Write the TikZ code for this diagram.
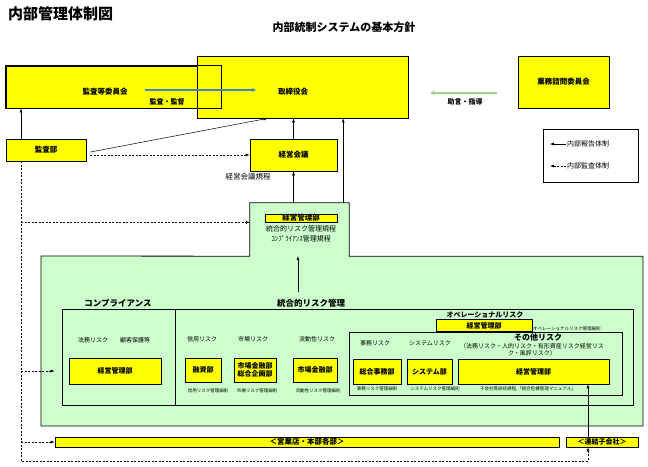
\documentclass[tikz,border=0pt]{standalone}
\usepackage{fontspec}
\setmainfont{Noto Sans CJK JP}
\usepackage{tikz}
\usetikzlibrary{arrows.meta,positioning}
\definecolor{boxyellow}{RGB}{255,255,0}
\definecolor{palegreen}{RGB}{204,255,204}
\definecolor{arrowblue}{RGB}{79,129,189}
\definecolor{arrowgreen}{RGB}{160,210,140}

\begin{document}
\begin{tikzpicture}[x=1pt, y=-1pt,
  every node/.style={font=\fontsize{7}{8}\selectfont, inner sep=0pt},
  ybox/.style={draw, line width=0.8pt, fill=boxyellow, font=\fontsize{7}{8.5}\selectfont\bfseries, align=center},
  grp/.style={draw, line width=0.8pt},
  lbl/.style={font=\fontsize{7.5}{9}\selectfont\bfseries},
  head/.style={font=\fontsize{8.5}{10}\selectfont\bfseries},
  note/.style={font=\fontsize{6}{7.5}\selectfont, align=center},
  tiny/.style={font=\fontsize{4.5}{5}\selectfont},
  rep/.style={-{Latex[length=4pt,width=3pt]}, line width=0.5pt},
  aud/.style={rep, dash pattern=on 2pt off 1.5pt}]
  \useasboundingbox (0,0) rectangle (648,466);

  % titles
  \node[font=\fontsize{15}{16}\selectfont\bfseries, anchor=west] (title) at (8,14) {内部管理体制図};
  \node[font=\fontsize{11}{12}\selectfont\bfseries] (policy) at (344,27) {内部統制システムの基本方針};

  % top level
  \node[ybox, minimum width=215pt, minimum height=42pt] (iinkai) at (113.5,87) {};
  \node[ybox, minimum width=211pt, minimum height=62pt] (board) at (302.5,87) {};
  \draw[line width=0.8pt] (iinkai.south west) rectangle (iinkai.north east);
  \node[lbl] (iinkailbl) at (105,92) {監査等委員会};
  \node[lbl, font=\fontsize{7}{8}\selectfont\bfseries] (kantoku) at (167,102) {監査・監督};
  \node[lbl] (boardlbl) at (293,92) {取締役会};
  \draw[-{Stealth[length=4pt,width=4pt]}, arrowblue, line width=1.2pt]
    ([shift={(17,-2)}]iinkailbl.east) -- ([shift={(-22,-2)}]boardlbl.west);

  \node[ybox, lbl, minimum width=91pt, minimum height=52pt] (shimon) at (563.5,82) {業務諮問委員会};
  \draw[-{Stealth[length=4pt,width=5pt]}, arrowgreen, line width=2pt]
    ([shift={(-21,11)}]shimon.west) -- ([shift={(22,6)}]board.east);
  \node[lbl, font=\fontsize{7}{8}\selectfont\bfseries] (jogen) at (465,102) {助言・指導};

  % audit and management meeting
  \node[ybox, lbl, minimum width=80pt, minimum height=22pt] (kansabu) at (46,150) {監査部};
  \node[ybox, lbl, minimum width=87pt, minimum height=32pt] (keiei) at (293.5,155) {経営会議};
  \node[lbl, font=\fontsize{7.5}{9}\selectfont] (keieikitei) at (248,177) {経営会議規程};
  \draw[rep] ([xshift=-25pt]kansabu.north) -- ([xshift=-25pt]kansabu.north |- iinkai.south);
  \draw[rep] ([shift={(4,2)}]kansabu.east) -- ([xshift=-35pt]board.south);
  \draw[aud] ([shift={(4,5)}]kansabu.east) -- (keiei.west);
  \draw[rep] (keiei.north) -- (keiei.north |- board.south);

  % legend
  \node[grp, minimum width=95pt, minimum height=53pt] (legend) at (590.5,155.5) {};
  \node[anchor=west] (lgrep) at (567,144) {内部報告体制};
  \node[anchor=west] (lgaud) at (567,166) {内部監査体制};
  \draw[rep] ([xshift=-1pt]lgrep.west) -- ([xshift=-17pt]lgrep.west);
  \draw[aud] ([xshift=-1pt]lgaud.west) -- ([xshift=-17pt]lgaud.west);

  % risk management area
  \node[minimum width=99pt, minimum height=53pt] (hq) at (299.5,229.5) {};
  \coordinate (risknw) at (41,256);
  \coordinate (riskse) at (643,426);
  \draw[grp, fill=palegreen] (hq.north west) -- (hq.north east) -- (hq.south east)
    -- (riskse |- hq.south) -- (riskse) -- (risknw |- riskse) -- (risknw) -- (hq.south west) -- cycle;
  \node[ybox, font=\fontsize{7.5}{8}\selectfont\bfseries, minimum width=72pt, minimum height=8pt] (kanri0) at (301,218) {経営管理部};
  \node[below=3pt of kanri0] (kitei1) {統合的リスク管理規程};
  \node[below=3pt of kitei1] (kitei2) {ｺﾝﾌﾟﾗｲｱﾝｽ管理規程};
  \draw[rep] (keiei.south |- hq.north) -- (keiei.south);
  \draw[rep] ([xshift=-6pt]hq.north east) -- ([xshift=-6pt]hq.north east |- board.south);

  \node[head] (cmphead) at (118,303) {コンプライアンス};
  \node[head] (riskhead) at (311,303) {統合的リスク管理};
  \coordinate (riskup) at (298,292);
  \draw[rep] (riskup) -- (riskup |- hq.south);

  \node[grp, minimum width=113pt, minimum height=96pt] (cmpbox) at (118.5,357) {};
  \node[grp, minimum width=458pt, minimum height=96pt] (riskbox) at (404,357) {};
  \node[grp, minimum width=273pt, minimum height=63pt] (otherbox) at (485.5,363.5) {};

  % compliance
  \node[note] (homu) at (93,340) {法務リスク};
  \node[note] (kokyaku) at (135,340) {顧客保護等};
  \node[ybox, minimum width=92pt, minimum height=26pt] (kanri1) at (115,371) {経営管理部};

  % credit, market, liquidity
  \node[note] (shinyo) at (202,339) {信用リスク};
  \node[note] (shijorisk) at (253,339) {市場リスク};
  \node[note] (ryudo) at (317,339) {流動性リスク};
  \node[ybox, minimum width=36pt, minimum height=24pt] (yushi) at (203,370) {融資部};
  \node[ybox, minimum width=42pt, minimum height=24pt] (shijo2) at (255,370) {市場金融部\\総合企画部};
  \node[ybox, minimum width=44pt, minimum height=24pt] (shijo) at (315,370) {市場金融部};
  \node[tiny] (saisoku1) at (208,391) {信用リスク管理細則};
  \node[tiny] (saisoku2) at (257,391) {市場リスク管理細則};
  \node[tiny] (saisoku3) at (318,391) {流動性リスク管理細則};

  % operational risk
  \node[font=\fontsize{7}{8}\selectfont\bfseries] (ophead) at (485,315) {オペレーショナルリスク};
  \node[ybox, minimum width=96pt, minimum height=12.5pt] (opkanri) at (484,325.5) {経営管理部};
  \node[tiny, anchor=west] (opsaisoku) at (533,328.5) {オペレーショナルリスク管理細則};
  \node[font=\fontsize{8}{9}\selectfont\bfseries] (sonota) at (538,337) {その他リスク};
  \node[note] (sonotalist) at (532,349.5) {（法務リスク・人的リスク・有形資産リスク経営リス\\ク・風評リスク）};
  \node[note] (jimurisk) at (375,343) {事務リスク};
  \node[note] (sysrisk) at (430,343) {システムリスク};
  \node[ybox, minimum width=48pt, minimum height=25pt] (jimu) at (377,371.5) {総合事務部};
  \node[ybox, minimum width=45pt, minimum height=25pt] (system) at (429.5,371.5) {システム部};
  \node[ybox, minimum width=151pt, minimum height=25pt] (kanri2) at (533.5,371.5) {経営管理部};
  \node[tiny] (saisoku4) at (377,389) {事務リスク管理細則};
  \node[tiny] (saisoku5) at (435,389) {システムリスク管理細則};
  \node[tiny] (saisoku6) at (528,389) {子会社等統括規程,「統合危機管理マニュアル」};

  % branches and subsidiaries
  \node[ybox, lbl, minimum width=504pt, minimum height=10pt] (eigyo) at (307,442) {＜営業店・本部各部＞};
  \node[ybox, minimum width=72pt, minimum height=10pt] (renketsu) at (602,442) {＜連結子会社＞};
  \draw[rep] ([xshift=-14pt]renketsu.north) -- ([xshift=-14pt]renketsu.north |- kanri2.south);

  % internal audit lines
  \coordinate (spine) at (21,461);
  \draw[aud] ([xshift=-25pt]kansabu.south) -- (spine) -| ([xshift=-14pt]renketsu.south);
  \draw[aud] (spine |- kanri0.south) -- (hq.west |- kanri0.south);
  \draw[aud] (spine |- kanri1.west) -- ([xshift=-7pt]cmpbox.west |- kanri1.west);
  \draw[aud] (spine |- eigyo.west) -- (eigyo.west);
\end{tikzpicture}
\end{document}
